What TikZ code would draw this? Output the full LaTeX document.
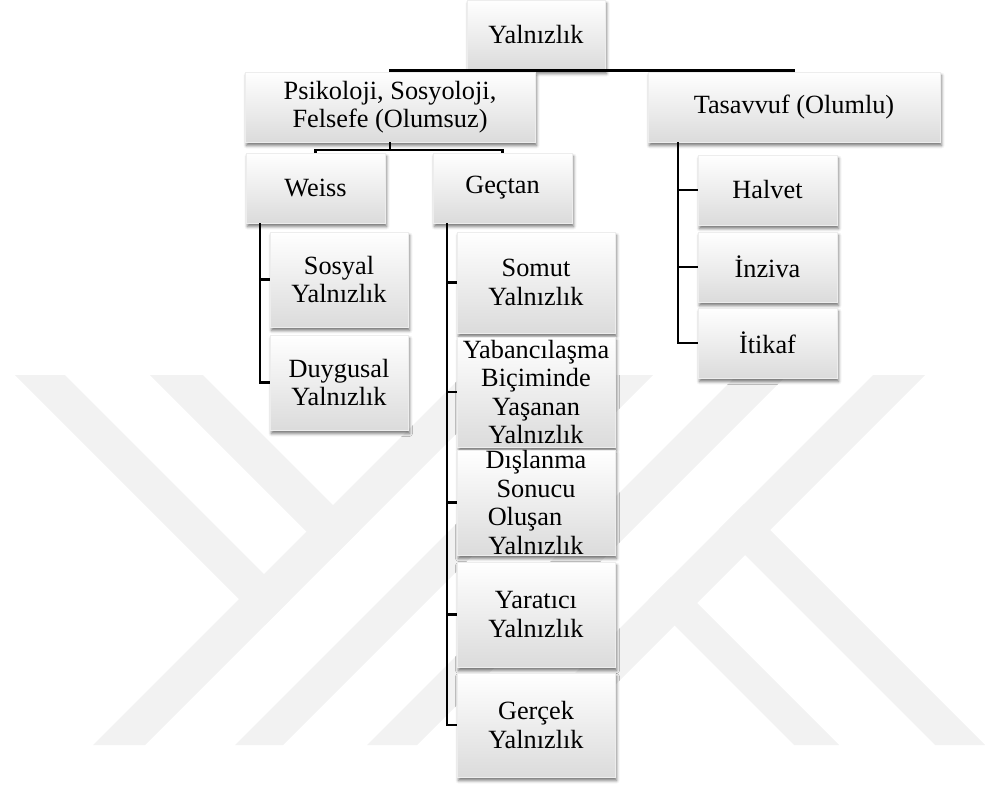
\documentclass[tikz,border=0pt]{standalone}
\usepackage{fontspec}
\setmainfont{Liberation Serif}
\usetikzlibrary{shadows.blur,calc}
\begin{document}
\begin{tikzpicture}[x=1pt,y=-1pt,
  box/.style={shape=rectangle, inner sep=0pt, align=center,
    font=\fontsize{26.3}{28.5}\selectfont,
    top color=white, middle color=white, bottom color=black!14,
    draw=black!7, line width=0.4pt,
    blur shadow={shadow xshift=1.5pt, shadow yshift=-3.5pt, shadow blur radius=3pt, shadow opacity=55}},
  smallbox/.style={box, minimum width=139pt, minimum height=70pt},
  tallbox/.style={box, minimum width=138pt, minimum height=95pt},
  gbox/.style={box, minimum width=158pt},
  conn/.style={line width=2.6pt, black},
  wm/.style={fill=black!5, draw=none}]
\useasboundingbox (0,0) rectangle (985,787);
% watermark
\fill[wm] (15,375) -- (65,375) -- (290,600) -- (265,625) -- cycle;
\fill[wm] (150,375) -- (203,375) -- (359,531) -- (332.5,557.5) -- cycle;
\fill[wm] (93,745) -- (145,745) -- (515,375) -- (463,375) -- cycle;
\fill[wm] (235,745) -- (283,745) -- (653,375) -- (605,375) -- cycle;
\fill[wm] (367,745) -- (417,745) -- (787,375) -- (737,375) -- cycle;
\fill[wm] (873,375) -- (925,375) -- (555,745) -- (503,745) -- cycle;
\fill[wm] (648.5,599.5) -- (671,577) -- (839,745) -- (794,745) -- cycle;
\fill[wm] (719,529) -- (744,504) -- (985,745) -- (935,745) -- cycle;
% nodes
\node[smallbox, minimum width=138pt] (root) at (536,35) {Yalnızlık};
\node[box, minimum width=290pt, minimum height=70pt] (psi) at (390,107) {Psikoloji, Sosyoloji,\\Felsefe (Olumsuz)};
\node[box, minimum width=292pt, minimum height=70pt] (tas) at (794,107) {Tasavvuf (Olumlu)};
\node[smallbox] (weiss) at (315.5,188) {Weiss};
\node[smallbox] (gec) at (502.5,188) {Geçtan};
\node[tallbox] (sosyal) at (339,279.5) {Sosyal\\Yalnızlık};
\node[tallbox] (duygu) at (339,382.5) {Duygusal\\Yalnızlık};
\node[smallbox] (halvet) at (767.5,190) {Halvet};
\node[smallbox] (inziva) at (767.5,267) {İnziva};
\node[smallbox] (itikaf) at (767.5,343) {İtikaf};
\node[gbox, minimum height=101pt] (somut) at (536,282.5) {Somut\\Yalnızlık};
\node[gbox, minimum height=110pt] (yaban) at (536,392) {Yabancılaşma\\Biçiminde\\Yaşanan\\Yalnızlık};
\node[gbox, minimum height=105pt] (disl) at (536,502.5) {Dışlanma\\Sonucu\\Oluşan\rule{22pt}{0pt}\\Yalnızlık};
\node[gbox, minimum height=105pt] (yarat) at (536,614.5) {Yaratıcı\\Yalnızlık};
\node[gbox, minimum height=104pt] (gercek) at (536,725) {Gerçek\\Yalnızlık};
% connectors
\draw[conn] (psi.north) -- (psi.north |- root.south) -- (tas.north |- root.south) -- (tas.north);
\coordinate (pj) at (390,150);
\draw[conn] (psi.south) -- (pj);
\draw[conn] (weiss.north) -- (weiss.north |- pj) -- (gec.north |- pj) -- (gec.north);
\coordinate (wt) at (260,223);
\draw[conn] (wt) |- (sosyal.west);
\draw[conn] (wt) |- (duygu.west);
\coordinate (gt) at (447,223);
\foreach \n in {somut,yaban,disl,yarat,gercek} \draw[conn] (gt) |- (\n.west);
\coordinate (tt) at (678,142);
\foreach \n in {halvet,inziva,itikaf} \draw[conn] (tt) |- (\n.west);
\end{tikzpicture}
\end{document}
